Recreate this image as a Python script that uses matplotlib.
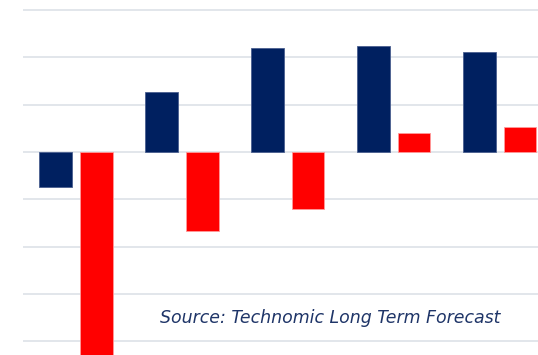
import numpy as np
import matplotlib.pyplot as plt

# values in gridline units
groups = np.arange(5)
navy_vals = [-0.75, 1.27, 2.19, 2.23, 2.11]
red_vals = [-4.5, -1.68, -1.2, 0.40, 0.52]

navy = '#002060'
red = '#ff0000'

fig = plt.figure(figsize=(5.38, 3.55), dpi=100)
ax = fig.add_axes([23/538, 0, 515/538, 1])

w = 0.31
off = 0.19
ax.bar(groups - off, navy_vals, width=w, color=navy, edgecolor='#4a5f8f', linewidth=0.6, zorder=3)
ax.bar(groups + off, red_vals, width=w, color=red, edgecolor='#ff9a9a', linewidth=0.6, zorder=3)

ax.set_xlim(-0.5, 4.36)
ax.set_ylim(-4.29, 3.21)
ax.set_yticks(np.arange(-4, 4))
ax.grid(axis='y', color='#dde1e8', linewidth=1.2, zorder=0)
ax.tick_params(left=False, bottom=False, labelleft=False, labelbottom=False)
for s in ax.spines.values():
    s.set_visible(False)

fig.text(160/538, 1 - 318/355, 'Source: Technomic Long Term Forecast',
         fontsize=12.5, style='italic', color='#1f3568', family='DejaVu Sans',
         va='center', ha='left')

fig.savefig('out.png', dpi=100)
